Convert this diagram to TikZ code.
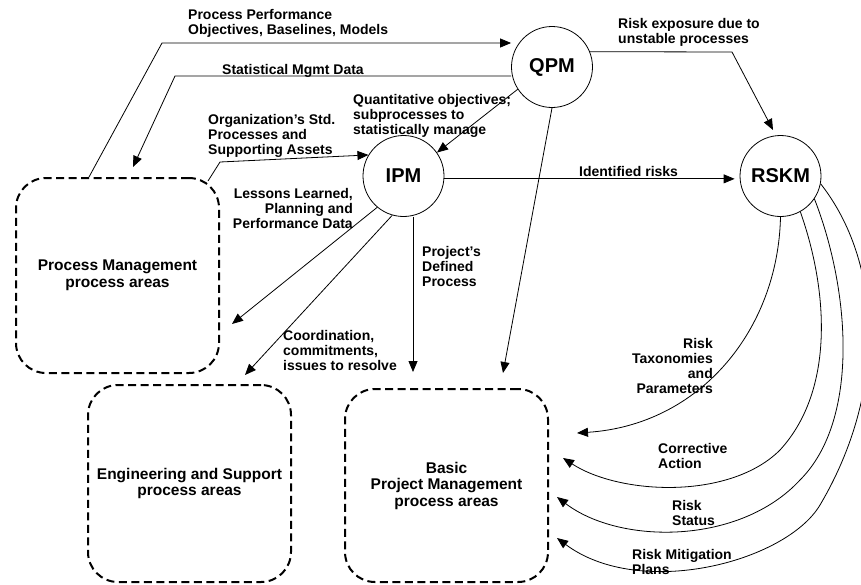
\documentclass[tikz,border=0pt]{standalone}
\usepackage{fontspec}
\setmainfont{Liberation Sans}
\usetikzlibrary{arrows.meta,calc}
\begin{document}
\begin{tikzpicture}[x=1pt,y=-1pt,
  lbl/.style={font=\bfseries\fontsize{14}{15}\selectfont, inner sep=0pt, align=left},
  proc/.style={circle, draw, line width=0.8pt, minimum size=81pt, inner sep=0pt, font=\bfseries\fontsize{20}{24}\selectfont},
  area/.style={draw, dash pattern=on 8pt off 4.5pt, line width=2pt, rounded corners=30pt, minimum width=203pt, minimum height=195pt, align=center, inner sep=0pt, font=\bfseries\fontsize{15.5}{16.5}\selectfont},
  conn/.style={line width=0.8pt, -{Triangle[length=11pt,width=9pt]}},
]
\useasboundingbox (0,0) rectangle (861,584);
\clip (0,0) rectangle (861,584);

% process circles
\node[proc] (QPM) at (552,67) {QPM};
\node[proc] (IPM) at (403.5,176) {IPM};
\node[proc] (RSKM) at (780.5,176) {RSKM};

% dashed process-area groups
\node[area] (PMA) at (117.5,275.5) {Process Management\\process areas};
\node[area, minimum height=197pt] (ESA) at (189.5,483.5) {Engineering and Support\\process areas};
\node[area, minimum height=193pt] (BPM) at (446.5,485.5) {Basic\\Project Management\\process areas};

% free ends and bends
\coordinate (b1) at (162,43);
\coordinate (s1) at (175,76);
\coordinate (s2) at (133,167);
\coordinate (o1) at (220,162);
\coordinate (q5) at (503,373);
\coordinate (r1) at (732,52);
\coordinate (r2) at (773,130);
\coordinate (t8) at (232,324);
\coordinate (t9) at (245,375);
\coordinate (t10) at (413,372);
\coordinate (ua) at (577,433);
\coordinate (ub) at (563,458);
\coordinate (uc) at (557,497);
\coordinate (ud) at (557,538);

% connectors
\draw[conn] ([xshift=-28.5pt]PMA.north) -- (b1) -- (QPM.west |- b1);
\draw[conn] (QPM.west |- s1) -- (s1) -- (s2);
\draw[conn] ([xshift=-12pt,yshift=-4pt]PMA.north east) -- (o1) -- (IPM.149);
\draw[conn] (QPM.213) -- (IPM.35);
\draw[conn] (QPM.south) -- (q5);
\draw[conn] (QPM.22) -- (r1) -- (r2);
\draw[conn] (IPM.-4) -- ([xshift=-5pt]IPM.-4 -| RSKM.west);
\draw[conn] (IPM.230) -- (t8);
\draw[conn] (IPM.254) -- (t9);
\draw[conn] (IPM.south -| t10) -- (t10);
\draw[conn] (RSKM.south) .. controls (778,330) and (700,425) .. (ua);
\draw[conn] (RSKM.299) .. controls (828,290) and (835,390) .. (780,450) .. controls (730,500) and (620,495) .. (ub);
\draw[conn] (RSKM.326) .. controls (850,290) and (860,420) .. (800,480) .. controls (740,545) and (620,545) .. (uc);
\draw[conn] (RSKM.349) .. controls (882,262) and (888,390) .. (820,505) .. controls (786,562) and (640,600) .. (ud);

% labels
\node[lbl, anchor=north west] (lppo) at (188,9) {Process Performance\\Objectives, Baselines, Models};
\node[lbl, anchor=north west] (lsmd) at (222,64) {Statistical Mgmt Data};
\node[lbl, anchor=north west] (lorg) at (208,114) {Organization’s Std.\\Processes and\\Supporting Assets};
\node[lbl, anchor=north west] (lqo) at (353,94) {Quantitative objectives;\\subprocesses to\\statistically manage};
\node[lbl, anchor=north west] (lre) at (618,18) {Risk exposure due to\\unstable processes};
\node[lbl, anchor=north west] (lir) at (579,166) {Identified risks};
\node[lbl, anchor=north east, align=right] (lll) at (353,188) {Lessons Learned,\\Planning and\\Performance Data};
\node[lbl, anchor=north west] (lpd) at (422,246) {Project’s\\Defined\\Process};
\node[lbl, anchor=north west] (lco) at (283,330) {Coordination,\\commitments,\\issues to resolve};
\node[lbl, anchor=north east, align=right] (lrt) at (713,338) {Risk\\Taxonomies\\and\\Parameters};
\node[lbl, anchor=north west] (lca) at (658,443) {Corrective\\Action};
\node[lbl, anchor=north west] (lrs) at (672,500) {Risk\\Status};
\node[lbl, anchor=north west] (lrm) at (632,549) {Risk Mitigation\\Plans};
\end{tikzpicture}
\end{document}
